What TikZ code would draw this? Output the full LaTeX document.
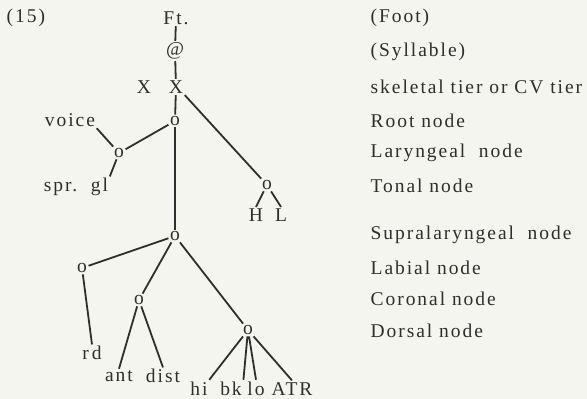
\documentclass[tikz,border=0pt]{standalone}
\usepackage{fontspec}
\setmainfont{Liberation Serif}[LetterSpace=10]
\definecolor{ink}{HTML}{2E2E2E}
\definecolor{paper}{HTML}{F5F5EF}
\begin{document}
\begin{tikzpicture}[x=1pt,y=-1pt,font=\fontsize{19.5}{22}\selectfont,text=ink,
    every node/.style={inner sep=1.5pt},
    lab/.style={anchor=west},
    bot/.style={anchor=base},
    edge/.style={draw=ink,line width=1.8pt}]
    \fill[paper] (0,0) rectangle (587,399);
    \useasboundingbox (0,0) rectangle (587,399);
    % tree
    \node[anchor=west] (num) at (5,18) {(15)};
    \node (ft) at (176,18) {Ft.};
    \node (syl) at (175,51) {@};
    \node (xa) at (144,87) {X};
    \node (xb) at (176,87) {X};
    \node (root) at (175,121) {o};
    \node (lar) at (119,153) {o};
    \node (voice) at (70,120) {voice};
    \node (sprgl) at (76,187) {spr.\ \ gl};
    \node (ton) at (267,185) {o};
    \node (h) at (256,215) {H};
    \node (l) at (281,215) {L};
    \node (sup) at (175,236) {o};
    \node (lbl) at (82,268) {o};
    \node (rd) at (92,353) {r\,d};
    \node (cor) at (139,300) {o};
    \node (ant) at (119,376) {ant};
    \node (dist) at (163,376) {dist};
    \node (dor) at (248,330) {o};
    \node[bot] (hi) at (199,395) {hi};
    \node[bot] (bk) at (231,395) {bk};
    \node[bot] (lo) at (256,395) {lo};
    \node[bot] (atr) at (292,395) {ATR};
    \draw[edge] (ft)--(syl) (syl)--(xb) (xb)--(root);
    \draw[edge] (xb.south east)--(ton);
    \draw[edge] (root)--(lar) (voice.south east)--(lar) (lar)--(sprgl.north east);
    \draw[edge] (ton)--(h.north) (ton)--(l.north);
    \draw[edge] (root)--(sup);
    \draw[edge] (sup)--(lbl) (lbl)--(rd.north) (sup)--(cor) (sup)--(dor);
    \draw[edge] (cor)--(ant.north) (cor)--(dist.north);
    \draw[edge] (dor)--(hi.north east) (dor)--(bk.north east) (dor)--(lo.north) (dor)--(atr.north);
    % labels on the right
    \node[lab] (tfoot) at (369,18) {(Foot)};
    \node[lab] (tsyl) at (369,52) {(Syllable)};
    \node[lab] (tskel) at (369,87) {skeletal tier or CV tier};
    \node[lab] (troot) at (369,121) {Root node};
    \node[lab] (tlar) at (369,153) {Laryngeal\ \ node};
    \node[lab] (tton) at (369,186) {Tonal node};
    \node[lab] (tsup) at (369,235) {Supralaryngeal\ \ node};
    \node[lab] (tlbl) at (369,268) {Labial node};
    \node[lab] (tcor) at (369,299) {Coronal node};
    \node[lab] (tdor) at (369,331) {Dorsal node};
\end{tikzpicture}
\end{document}
